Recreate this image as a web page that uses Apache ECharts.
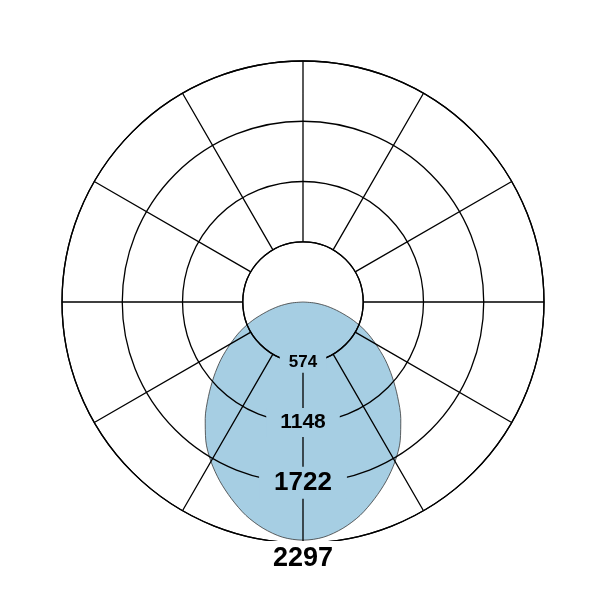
<!DOCTYPE html>
<html>
<head>
  <meta charset="utf-8">
  <title>Light distribution</title>
  <script type="text/javascript" src="https://cdn.jsdelivr.net/npm/echarts@6/dist/echarts.min.js"></script>
  <style type="text/css">
    * {
      margin: 0;
      padding: 0;
    }
    html, body, #chart {
      width: 100%;
      height: 100%;
      overflow: hidden;
      background: #fff;
    }
  </style>
</head>
<body>
  <div id="chart"></div>
  <script type="text/javascript">
    // angle 0 = straight down, values in cd
    var angles = [-90, -85, -80, -75, -70, -65, -60, -55, -50, -45, -40, -35, -30, -25, -20, -15, -10, -5,
      0, 5, 10, 15, 20, 25, 30, 35, 40, 45, 50, 55, 60, 65, 70, 75, 80, 85, 90];
    var intensity = [0, 115, 235, 360, 510, 660, 800, 955, 1110, 1275, 1450, 1615, 1755, 1880, 1995, 2105, 2190, 2250,
      2270, 2250, 2190, 2105, 1995, 1880, 1755, 1615, 1450, 1275, 1110, 955, 800, 660, 510, 360, 235, 115, 0];
    // ring labels
    var ringValues = [574, 1148, 1722, 2297];
    var ringFontSizes = [17, 21, 26, 27];

    var outerR = 241;
    var center = [303, 302];
    var maxVal = ringValues[ringValues.length - 1];

    var curve = angles.map(function (a, i) {
      return [intensity[i], a];
    });

    var labelPads = [[2, 9], [4, 14], [3, 15], [4, 10, 0, 10]];

    var gridLine = { color: '#000', width: 1.3 };

    var option = {
      animation: false,
      polar: [
        // grid, with the hole in the middle
        { center: center, radius: [outerR * ringValues[0] / maxVal, outerR] },
        // data
        { center: center, radius: [0, outerR] }
      ],
      angleAxis: [
        {
          polarIndex: 0,
          type: 'value',
          min: 0,
          max: 360,
          interval: 30,
          startAngle: 90,
          z: 5,
          axisLine: { show: true, lineStyle: gridLine },
          axisTick: { show: false },
          axisLabel: { show: false },
          splitLine: { show: true, lineStyle: gridLine }
        },
        {
          polarIndex: 1,
          type: 'value',
          min: -180,
          max: 180,
          startAngle: 90,
          show: false
        }
      ],
      radiusAxis: [
        {
          polarIndex: 0,
          type: 'value',
          min: 1,
          max: 4,
          interval: 1,
          z: 5,
          axisLine: { show: false },
          axisTick: { show: false },
          axisLabel: { show: false },
          splitLine: { show: true, lineStyle: gridLine }
        },
        {
          polarIndex: 1,
          type: 'value',
          min: 0,
          max: maxVal,
          show: false
        }
      ],
      series: [
        {
          type: 'line',
          coordinateSystem: 'polar',
          polarIndex: 1,
          data: curve,
          smooth: 0.3,
          symbol: 'none',
          z: 1,
          lineStyle: { color: '#3a3a3a', width: 0.8 },
          areaStyle: { color: '#a6cee3', opacity: 1 },
          silent: true
        },
        {
          // ring values, with a knockout box behind each
          type: 'custom',
          coordinateSystem: 'polar',
          polarIndex: 1,
          data: ringValues.map(function (v) { return [v, 0]; }),
          z: 10,
          silent: true,
          renderItem: function (params, api) {
            var i = params.dataIndex;
            var last = i === ringValues.length - 1;
            var pt = api.coord([api.value(0), api.value(1)]);
            return {
              type: 'text',
              x: pt[0],
              y: last ? pt[1] - 2 : pt[1],
              style: {
                text: String(ringValues[i]),
                fill: '#000',
                font: 'bold ' + ringFontSizes[i] + 'px "Liberation Sans"',
                align: 'center',
                verticalAlign: last ? 'top' : 'middle',
                padding: labelPads[i],
                backgroundColor: last ? '#fff' : '#a6cee3'
              }
            };
          }
        }
      ]
    };

    var chart = echarts.init(document.getElementById('chart'));
    chart.setOption(option);
  </script>
</body>
</html>
